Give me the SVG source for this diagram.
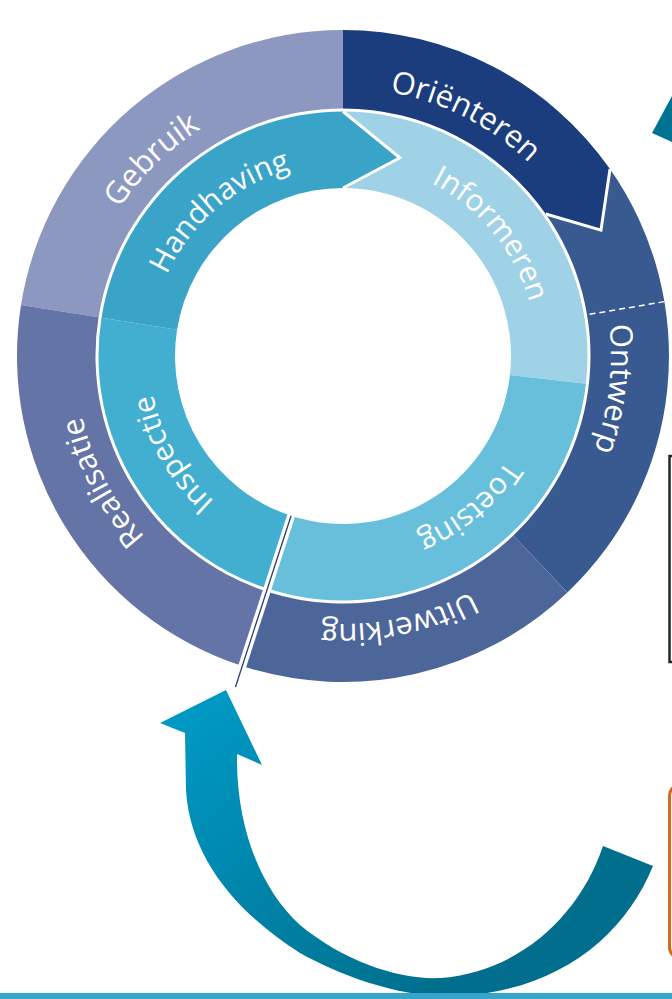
<svg xmlns="http://www.w3.org/2000/svg" width="672" height="999" viewBox="0 0 672 999">
<style>
.lbl{font-family:"Open Sans","Liberation Sans",sans-serif;fill:#ffffff;}
.out{font-size:31px;}
.inn{font-size:30px;}
.tip{fill:none;stroke:#ffffff;stroke-width:3;stroke-linejoin:miter;}
</style>
<defs>
<linearGradient id="arrowGrad" gradientUnits="userSpaceOnUse" x1="230" y1="700" x2="450" y2="990">
<stop offset="0" stop-color="#0097c2"/>
<stop offset="1" stop-color="#006e8c"/>
</linearGradient>
<path id="pGebruik" d="M121.61,507.03 A268,268 0 0 1 499.39,138.36"/>
<path id="pOrienteren" d="M128.96,194.71 A268,268 0 0 1 599.29,434.36"/>
<path id="pOntwerp" d="M420.91,99.57 A268,268 0 0 1 357.49,623.61"/>
<path id="pUitwerking" d="M610.84,346.65 A268,268 0 0 1 94.52,456.39"/>
<path id="pRealisatie" d="M424.48,611.31 A268,268 0 0 1 179.09,143.97"/>
<path id="pHandhaving" d="M175.84,454.46 A194,194 0 0 1 466.40,206.31"/>
<path id="pInformeren" d="M247.47,187.15 A194,194 0 0 1 490.52,481.99"/>
<path id="pToetsing" d="M511.01,259 A194,194 0 0 1 218.30,504.61"/>
<path id="pInspectie" d="M409.35,538.30 A194,194 0 0 1 218.30,207.39"/>
</defs>
<rect width="672" height="999" fill="#ffffff"/>

<g id="outer-ring">
<g id="gebruik">
<path d="M21.01,305 A326,326 0 0 1 343,30 L343,108.5 A247.5,247.5 0 0 0 98.55,317.28 Z" fill="#8d98c1"/>
<text class="lbl out"><textPath href="#pGebruik" startOffset="50%" text-anchor="middle">Gebruik</textPath></text>
</g>
<g id="ontwerp">
<path d="M610.04,169.01 A326,326 0 0 1 567.40,592.47 L513.37,535.53 A247.5,247.5 0 0 0 545.74,214.04 Z" fill="#385a91"/>
<line x1="589.5" y1="314.31" x2="672.3" y2="300.3" stroke="#ffffff" stroke-width="1.5" stroke-dasharray="6 4"/>
<text class="lbl out"><textPath href="#pOntwerp" startOffset="50%" text-anchor="middle">Ontwerp</textPath></text>
</g>
<g id="orienteren">
<path d="M343,30 A326,326 0 0 1 610.04,169.01 L600.95,230.19 L545.74,214.04 A247.5,247.5 0 0 0 343,108.5 Z" fill="#1b3d7d"/>
<polyline class="tip" points="610.04,169.01 600.95,230.19 545.74,214.04"/>
<text class="lbl out"><textPath href="#pOrienteren" startOffset="50%" text-anchor="middle">Oriënteren</textPath></text>
</g>
<g id="uitwerking">
<path d="M567.40,592.47 A326,326 0 0 1 242.26,666.05 L266.52,591.39 A247.5,247.5 0 0 0 513.37,535.53 Z" fill="#4c6699"/>
<text class="lbl out"><textPath href="#pUitwerking" startOffset="50%" text-anchor="middle">Uitwerking</textPath></text>
</g>
<g id="realisatie">
<path d="M242.26,666.05 A326,326 0 0 1 21.01,305 L98.55,317.28 A247.5,247.5 0 0 0 266.52,591.39 Z" fill="#6574a6"/>
<text class="lbl out"><textPath href="#pRealisatie" startOffset="50%" text-anchor="middle">Realisatie</textPath></text>
</g>
</g>

<g id="inner-ring">
<g id="informeren">
<path d="M343,111.5 A244.5,244.5 0 0 1 585.93,383.68 L509.92,375.02 A168,168 0 0 0 343,188 Z" fill="#9fd2e6"/>
<text class="lbl inn"><textPath href="#pInformeren" startOffset="50%" text-anchor="middle">Informeren</textPath></text>
</g>
<g id="toetsing">
<path d="M585.93,383.68 A244.5,244.5 0 0 1 267.44,588.53 L291.08,515.78 A168,168 0 0 0 509.92,375.02 Z" fill="#67bfdb"/>
<text class="lbl inn"><textPath href="#pToetsing" startOffset="50%" text-anchor="middle">Toetsing</textPath></text>
</g>
<g id="inspectie">
<path d="M267.44,588.53 A244.5,244.5 0 0 1 101.51,317.75 L177.07,329.72 A168,168 0 0 0 291.08,515.78 Z" fill="#42afd1"/>
<text class="lbl inn"><textPath href="#pInspectie" startOffset="50%" text-anchor="middle">Inspectie</textPath></text>
</g>
<g id="handhaving">
<path d="M177.07,329.72 L101.51,317.75 A244.5,244.5 0 0 1 343,111.5 L399.85,157.74 L343,188 A168,168 0 0 0 177.07,329.72 Z" fill="#3aa3c8"/>
<polyline class="tip" points="343,111.5 399.85,157.74 343,188"/>
<text class="lbl inn"><textPath href="#pHandhaving" startOffset="50%" text-anchor="middle">Handhaving</textPath></text>
</g>
</g>

<g id="connectors">
<line x1="292.01" y1="512.92" x2="241.64" y2="667.95" stroke="#ffffff" stroke-width="8"/>
<line x1="291.08" y1="515.78" x2="235.46" y2="686.97" stroke="#2b3c78" stroke-width="1.3"/>
<path id="return-arrow" d="M603,846 L653,866 C625,935 560,990 460,996 C400,999 340,975 300,953 C240,915 190,860 186,790 L185,733 L160,723 L226,690 L262,765 L237,754 C236,830 262,890 300,925 C345,962 400,980 440,978 C520,972 580,915 603,846 Z" fill="url(#arrowGrad)"/>
<polygon id="arrow-top-right" points="652,133 672,96 672,142" fill="#007393"/>
</g>

<g id="right-edge">
<path d="M672,456 L669.5,456 L669.5,662 L672,662" fill="none" stroke="#1d2b22" stroke-width="2.5"/>
<rect x="669.5" y="784" width="40" height="175" rx="12" fill="none" stroke="#d9661c" stroke-width="3"/>
</g>
<rect x="0" y="993" width="672" height="6" fill="#35a6ca"/>
</svg>
